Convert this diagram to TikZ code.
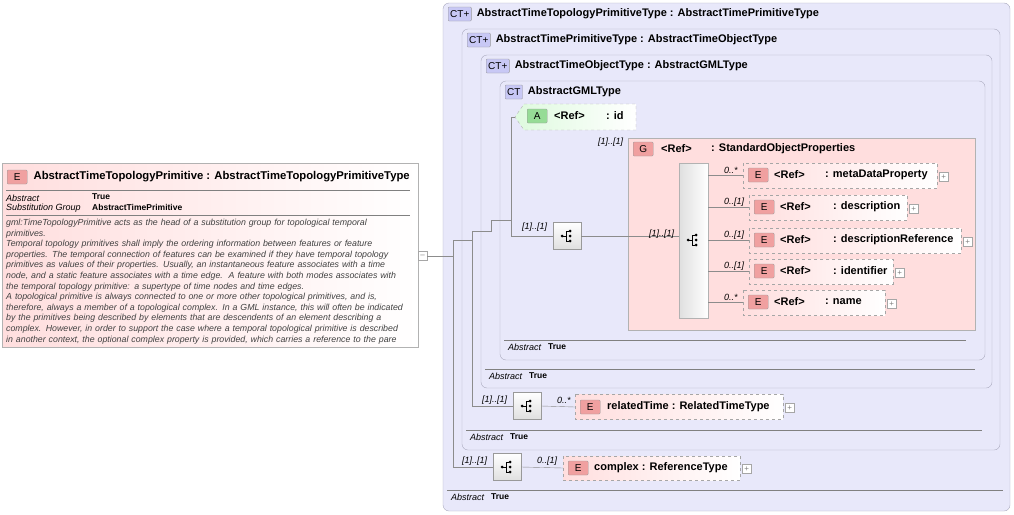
\documentclass[tikz,border=0pt]{standalone}
\usepackage{fontspec}
\setmainfont{Liberation Sans}
\usetikzlibrary{positioning}
\definecolor{ctFill}{RGB}{232,232,250}
\definecolor{ctLine}{RGB}{170,170,190}
\definecolor{elFill}{RGB}{255,222,222}
\definecolor{elBadge}{RGB}{240,160,160}
\definecolor{atFill}{RGB}{222,250,222}
\definecolor{atBadge}{RGB}{150,220,150}
\definecolor{ctBadge}{RGB}{200,200,245}
\definecolor{wire}{RGB}{140,140,140}
\tikzset{
  ctbox/.style={draw=ctLine,fill=ctFill,rounded corners=6pt},
  elbox/.style={draw=gray!70,dashed,left color=elFill,right color=white},
  badge/.style={draw=gray!80,rounded corners=1pt,inner sep=2pt,minimum height=14pt,font=\fontsize{10}{10}\selectfont},
  lbl/.style={anchor=west,inner sep=0pt,font=\bfseries\fontsize{11}{12}\selectfont},
  card/.style={anchor=west,inner sep=0pt,font=\itshape\fontsize{9}{10}\selectfont},
  seq/.style={draw=gray!80,top color=white,bottom color=gray!25,minimum width=28pt,minimum height=27pt,inner sep=0pt},
  plus/.style={draw=gray!70,fill=white,minimum size=9pt,inner sep=0pt,font=\fontsize{8}{8}\selectfont,text=gray},
  wire/.style={draw=wire}
}
\newcommand{\seqicon}[1]{%
  \fill (#1) ++(-5pt,0) circle (1.5pt);
  \draw (#1) ++(-5pt,0) -- ++(4pt,0) ++(0,-5pt) -- ++(0,10pt);
  \draw (#1) ++(-1pt,-5pt) -- ++(3pt,0) (#1) ++(-1pt,5pt) -- ++(3pt,0);
  \foreach \dy in {-5,0,5}{\fill (#1) ++(3pt,\dy pt) circle (1.5pt);}
}
\newcommand{\ctbadge}[4]{% name, pos, text, title
  \node[badge,fill=ctBadge,anchor=west] (#1) at (#2) {#3};
  \node[lbl,right=5pt of #1] {#4};
}
\newcommand{\abstrue}[3]{% left x, right x, y
  \draw[gray] (#1,#3-7) -- (#2,#3-7);
  \node[card] at (#1+4,#3) {Abstract};
  \node[lbl,font=\bfseries\fontsize{8.5}{9}\selectfont] at (#1+44,#3) {True};
}
\begin{document}
\begin{tikzpicture}[x=1pt,y=-1pt]
\useasboundingbox (0,0) rectangle (1014,514);

% left element
\shade[left color=elFill,right color=white,draw=gray!60] (2,163) rectangle (418,347);
\node[badge,fill=elBadge,anchor=west,minimum width=20pt] (mainb) at (7,177) {E};
\node[lbl,font=\bfseries\fontsize{11.3}{12}\selectfont,right=6pt of mainb] (main) {AbstractTimeTopologyPrimitive : AbstractTimeTopologyPrimitiveType};
\draw[gray] (6,190) -- (410,190) (6,215) -- (410,215);
\node[card] at (6,198) {Abstract};
\node[card] at (6,208) {Substitution Group};
\node[lbl,font=\bfseries\fontsize{8.5}{9}\selectfont] at (92,197) {True};
\node[lbl,font=\bfseries\fontsize{8.5}{9}\selectfont] at (92,207) {AbstractTimePrimitive};
\node[anchor=north west,inner sep=0pt,text width=410pt,align=left,font=\itshape\fontsize{8.8}{10.6}\selectfont,text=black!75] at (6,219)
{gml:TimeTopologyPrimitive acts as the head of a substitution group for topological temporal\\
primitives.\\
Temporal topology primitives shall imply the ordering information between features or feature\\
properties. The temporal connection of features can be examined if they have temporal topology\\
primitives as values of their properties. Usually, an instantaneous feature associates with a time\\
node, and a static feature associates with a time edge.\ \ A feature with both modes associates with\\
the temporal topology primitive: a supertype of time nodes and time edges.\\
A topological primitive is always connected to one or more other topological primitives, and is,\\
therefore, always a member of a topological complex. In a GML instance, this will often be indicated\\
by the primitives being described by elements that are descendents of an element describing a\\
complex. However, in order to support the case where a temporal topological primitive is described\\
in another context, the optional complex property is provided, which carries a reference to the pare};
\node[plus,anchor=west] (mainm) at (418,256) {--};

% nested complex types
\draw[ctbox] (443,3) rectangle (1010,511);
\ctbadge{ct1}{448,14}{CT+}{AbstractTimeTopologyPrimitiveType : AbstractTimePrimitiveType}
\abstrue{447}{1003}{497}
\draw[ctbox] (462,29) rectangle (1000,450);
\ctbadge{ct2}{467,40}{CT+}{AbstractTimePrimitiveType : AbstractTimeObjectType}
\abstrue{466}{982}{437}
\draw[ctbox] (481,55) rectangle (992,388);
\ctbadge{ct3}{486,66}{CT+}{AbstractTimeObjectType : AbstractGMLType}
\abstrue{485}{975}{376}
\draw[ctbox] (500,81) rectangle (985,360);
\ctbadge{ct4}{505,92}{CT}{AbstractGMLType}
\abstrue{504}{966}{347}

% attribute id
\draw[dashed,draw=gray!60,left color=atFill,right color=white] (524,104) -- (636,104) -- (636,130) -- (524,130) -- (515,117) -- cycle;
\node[badge,fill=atBadge,anchor=west,minimum width=20pt] (idb) at (527,116) {A};
\node[lbl] (idr) at (554,116) {<Ref>};
\node[lbl] (id) at (606,116) {: id};

% group
\draw[draw=gray!60,fill=elFill] (628,138) rectangle (975,330);
\node[card] at (598,142) {[1]..[1]};
\node[badge,fill=elBadge,anchor=west,minimum width=20pt] (grpb) at (633,149) {G};
\node[lbl] (grpr) at (661,149) {<Ref>};
\node[lbl] (grp) at (711,149) {: StandardObjectProperties};
\shade[left color=gray!25,right color=white,draw=gray!60] (679,163) rectangle (708,318);
\coordinate (gseq) at (693,240);
\seqicon{gseq}

% group members
\foreach \x/\y/\w/\c/\txt/\cd [count=\i] in {
  743/175/194/825/metaDataProperty/0..*,
  749/207/158/833/description/0..[1],
  749/240/212/833/descriptionReference/0..[1],
  749/271/144/833/identifier/0..[1],
  743/302/142/825/name/0..*}{
  \draw[fill=white,draw=none] (\x,\y-12) rectangle ++(\w,25);
  \draw[elbox] (\x,\y-12) rectangle ++(\w,25);
  \node[badge,fill=elBadge,anchor=west,minimum width=20pt] (m\i b) at (\x+5,\y) {E};
  \node[lbl] (m\i r) at (\x+31,\y) {<Ref>};
  \node[lbl] (m\i) at (\c,\y) {: \txt};
  \node[plus,anchor=west] at (\x+\w+2,\y+2) {+};
  \node[card] at (724,\y-5) {\cd};
  \draw[wire] (708,\y) -- (\x,\y);
}

% sequences
\node[seq] (s1) at (567,236) {}; \seqicon{s1.center}
\node[card] at (522,227) {[1]..[1]};
\draw[wire] (511,117) -- (515,117) (511,117) -- (511,236) -- (s1.west);
\draw[wire] (s1.east) -- (679,236);
\node[card] at (649,234) {[1]..[1]};

\node[seq] (s2) at (527,406) {}; \seqicon{s2.center}
\node[card] at (482,400) {[1]..[1]};
\draw[elbox] (575,394) rectangle (783,419);
\node[badge,fill=elBadge,anchor=west,minimum width=20pt] (rtb) at (580,407) {E};
\node[lbl] (rt) at (607,407) {relatedTime : RelatedTimeType};
\node[plus,anchor=west] at (785,408) {+};
\node[card] at (557,400) {0..*};
\draw[wire] (s2.east) -- (575,407);

\node[seq] (s3) at (507,467) {}; \seqicon{s3.center}
\node[card] at (462,461) {[1]..[1]};
\draw[elbox] (563,456) rectangle (740,480);
\node[badge,fill=elBadge,anchor=west,minimum width=20pt] (cxb) at (568,468) {E};
\node[lbl] (cx) at (594,468) {complex : ReferenceType};
\node[plus,anchor=west] at (742,469) {+};
\node[card] at (537,461) {0..[1]};
\draw[wire] (s3.east) -- (563,468);

% tree wires
\draw[wire] (mainm.east) -- (453,256);
\draw[wire] (453,240) -- (453,467) -- (s3.west);
\draw[wire] (453,240) -- (472,240) -- (472,406) -- (s2.west);
\draw[wire] (472,231) -- (491,231) -- (491,220) -- (511,220);
\draw[wire] (472,231) -- (472,240);
\end{tikzpicture}
\end{document}
